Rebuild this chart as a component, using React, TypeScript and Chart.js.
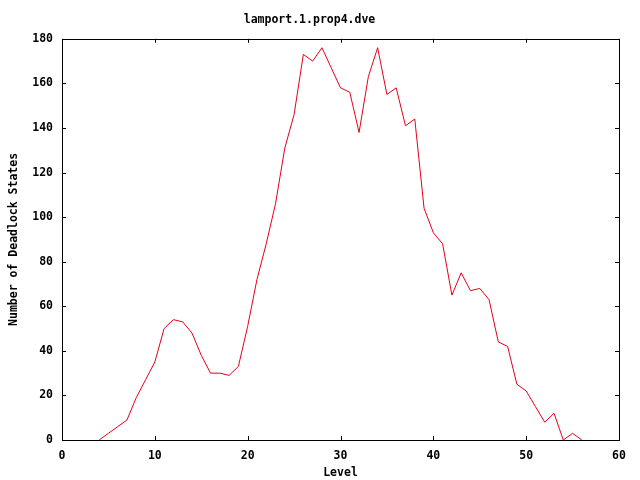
import React, { useEffect, useRef } from "react";
import { Chart, registerables } from "chart.js";

Chart.register(...registerables);

const levels: number[] = [
  4, 5, 6, 7, 8, 9, 10, 11, 12, 13, 14, 15, 16, 17, 18, 19, 20, 21, 22, 23, 24, 25, 26, 27, 28, 29, 30,
  31, 32, 33, 34, 35, 36, 37, 38, 39, 40, 41, 42, 43, 44, 45, 46, 47, 48, 49, 50, 51, 52, 53, 54, 55, 56,
];
const deadlockStates: number[] = [
  0, 3, 6, 9, 19, 27, 35, 50, 54, 53, 48, 38, 30, 30, 29, 33, 51, 72, 88, 106, 131, 146, 173, 170, 176, 167, 158,
  156, 138, 163, 176, 155, 158, 141, 144, 104, 93, 88, 65, 75, 67, 68, 63, 44, 42, 25, 22, 15, 8, 12, 0, 3, 0,
];
const xTicks: number[] = [0, 10, 20, 30, 40, 50, 60];
const yTicks: number[] = [0, 20, 40, 60, 80, 100, 120, 140, 160, 180];

const chartTitle = "lamport.1.prop4.dve";
const xTitle = "Level";
const yTitle = "Number of Deadlock States";

const FONT = "'DejaVu Sans Mono', 'Liberation Mono', monospace";

const frameTicks = {
  id: "frameTicks",
  afterDraw(chart: any) {
    const { ctx, chartArea, scales } = chart;
    const { left, right, top, bottom } = chartArea;
    const len = 4;
    ctx.save();
    ctx.strokeStyle = "#000";
    ctx.lineWidth = 1;
    ctx.beginPath();
    for (const v of xTicks) {
      const x = Math.round(scales.x.getPixelForValue(v)) + 0.5;
      ctx.moveTo(x, bottom);
      ctx.lineTo(x, bottom - len);
      ctx.moveTo(x, top);
      ctx.lineTo(x, top + len);
    }
    for (const v of yTicks) {
      const y = Math.round(scales.y.getPixelForValue(v)) + 0.5;
      ctx.moveTo(left, y);
      ctx.lineTo(left + len, y);
      ctx.moveTo(right, y);
      ctx.lineTo(right - len, y);
    }
    ctx.stroke();
    ctx.strokeRect(Math.round(left) + 0.5, Math.round(top) + 0.5, Math.round(right - left), Math.round(bottom - top));
    ctx.restore();
  },
};

export default function App() {
  const ref = useRef<HTMLCanvasElement | null>(null);
  useEffect(() => {
    document.body.style.margin = "0";
    if (!ref.current) return;
    const chart = new Chart(ref.current, {
      type: "line",
      data: {
        datasets: [
          {
            data: levels.map((l, i) => ({ x: l, y: deadlockStates[i] })),
            borderColor: "#e3001b",
            borderWidth: 1,
            pointRadius: 0,
            tension: 0,
            fill: false,
          },
        ],
      },
      options: {
        responsive: false,
        animation: false,
        layout: { padding: { left: 0, right: 21, top: 0, bottom: 0 } },
        plugins: {
          legend: { display: false },
          tooltip: { enabled: false },
          title: {
            display: true,
            text: chartTitle,
            color: "#000",
            font: { family: FONT, size: 11.5, weight: "bold" },
            padding: { top: 13, bottom: 12 },
          },
        },
        scales: {
          x: {
            type: "linear",
            min: 0,
            max: 60,
            grid: { display: false, drawTicks: false },
            border: { display: false },
            afterFit: (s: any) => {
              s.height = 40;
            },
            afterBuildTicks: (s: any) => {
              s.ticks = xTicks.map((v) => ({ value: v }));
            },
            ticks: {
              color: "#000",
              padding: 9,
              maxRotation: 0,
              autoSkip: false,
              font: { family: FONT, size: 11.5, weight: "bold" },
            },
            title: {
              display: true,
              text: xTitle,
              color: "#000",
              font: { family: FONT, size: 11.5, weight: "bold" },
              padding: { top: 0, bottom: 0 },
            },
          },
          y: {
            min: 0,
            max: 180,
            grid: { display: false, drawTicks: false },
            border: { display: false },
            afterFit: (s: any) => {
              s.width = 62;
            },
            afterBuildTicks: (s: any) => {
              s.ticks = yTicks.map((v) => ({ value: v }));
            },
            ticks: {
              color: "#000",
              padding: 9,
              autoSkip: false,
              font: { family: FONT, size: 11.5, weight: "bold" },
            },
            title: {
              display: true,
              text: yTitle,
              color: "#000",
              font: { family: FONT, size: 11.5, weight: "bold" },
              padding: { top: 7, bottom: 0 },
            },
          },
        },
      },
      plugins: [frameTicks],
    });
    return () => chart.destroy();
  }, []);
  return (
    <div style={{ position: "absolute", left: 0, top: 0, width: 640, height: 480, background: "#fff" }}>
      <canvas ref={ref} width={640} height={480} style={{ display: "block" }} />
    </div>
  );
}
